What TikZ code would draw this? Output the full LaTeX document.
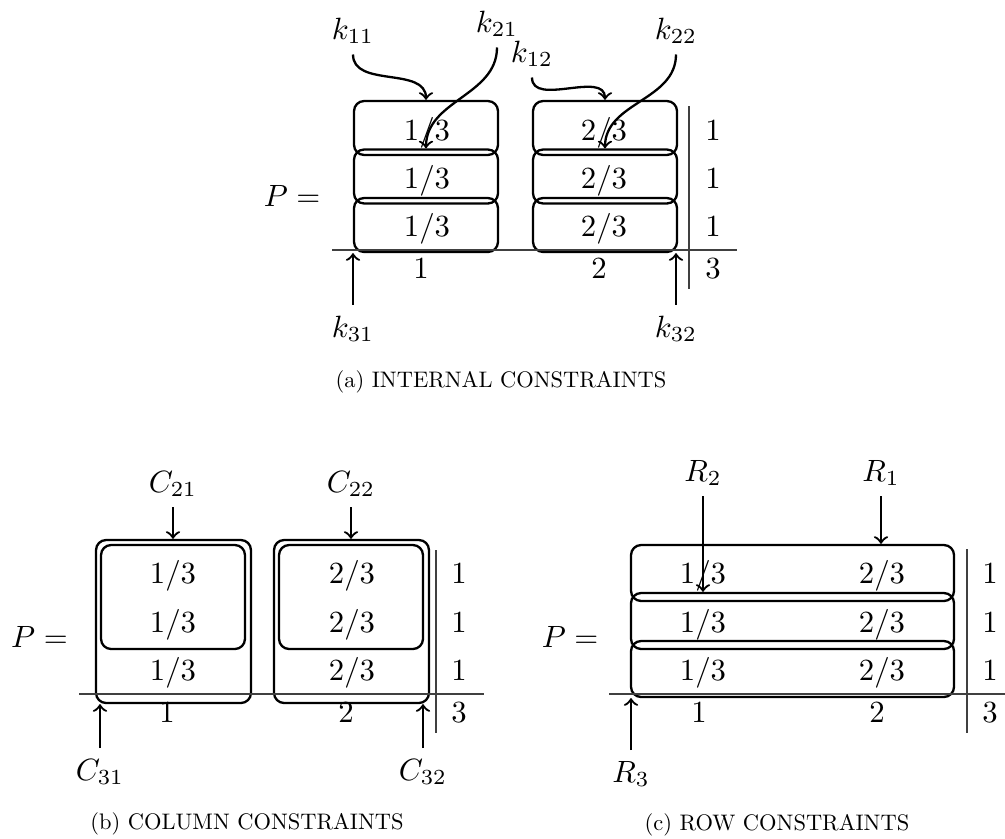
\documentclass[tikz,border=0pt]{standalone}
\begin{document}
\begin{tikzpicture}[x=0.325pt,y=-0.325pt,
  grp/.style args={#1x#2}{draw, line width=0.75pt, rounded corners=3.3pt, inner sep=0pt,
     minimum width=#1*0.325pt, minimum height=#2*0.325pt},
  val/.style={anchor=base, inner sep=0pt},
  lbl/.style={anchor=base},
  arr/.style={->, line width=0.75pt},
  rule/.style={line width=0.45pt, black!75},
  captxt/.style={anchor=base, scale=0.73}]
\useasboundingbox (0,0) rectangle (1005,838);

% ---------- (a) internal constraints ----------
\node[grp=144x54] (l1) at (426,128) {};
\node[grp=144x54] (l2) at (426,176.5) {};
\node[grp=144x54] (l3) at (426,225) {};
\node[grp=144x54] (r1) at (605,128) {};
\node[grp=144x54] (r2) at (605,176.5) {};
\node[grp=144x54] (r3) at (605,225) {};
\foreach \y [count=\i] in {140,188,236}{
  \node[val] (a1\i) at (427,\y) {$1/3$};
  \node[val] (a2\i) at (604,\y) {$2/3$};
  \node[val] (as\i) at (713,\y) {$1$};
}
\node[val] (ac1) at (421,278) {$1$};
\node[val] (ac2) at (599,278) {$2$};
\node[val] (at) at (713,278) {$3$};
\draw[rule] (332,250) -- (737,250);
\draw[rule] (689,106) -- (689,289);
\node[val] (Pa) at (292,206) {$P =$};
\node[lbl] (k11) at (353,39) {$k_{11}$};
\node[lbl] (k21) at (497,32) {$k_{21}$};
\node[lbl] (k12) at (532,62) {$k_{12}$};
\node[lbl] (k22) at (676,39) {$k_{22}$};
\node[lbl] (k31) at (353,337) {$k_{31}$};
\node[lbl] (k32) at (676,337) {$k_{32}$};
\draw[arr] (k11.south) to[out=-90,in=90] (l1.north);
\draw[arr] (k21.south) to[out=-90,in=90] (l2.north);
\draw[arr] (k12.south) to[out=-90,in=90] (r1.north);
\draw[arr] (k22.south) to[out=-90,in=90] (r2.north);
\draw[arr] (k31.north) -- (k31.north |- l3.south);
\draw[arr] (k32.north) -- (k32.north |- r3.south);
\node[captxt] (capa) at (501,387) {(a) INTERNAL CONSTRAINTS};

% ---------- (b) column constraints ----------
\node[grp=155x163] (ob1) at (173.5,621.5) {};
\node[grp=144x104] (ib1) at (173,597) {};
\node[grp=155x163] (ob2) at (351.5,621.5) {};
\node[grp=144x104] (ib2) at (351,597) {};
\foreach \y [count=\i] in {583,632,680}{
  \node[val] (b1\i) at (173,\y) {$1/3$};
  \node[val] (b2\i) at (352,\y) {$2/3$};
  \node[val] (bs\i) at (459,\y) {$1$};
}
\node[val] (bc1) at (167,722) {$1$};
\node[val] (bc2) at (346,722) {$2$};
\node[val] (bt) at (459,722) {$3$};
\draw[rule] (79,694) -- (484,694);
\draw[rule] (436,550) -- (436,733);
\node[val] (Pb) at (39.5,647) {$P =$};
\node[lbl] (C21) at (173,492) {$C_{21}$};
\node[lbl] (C22) at (351,492) {$C_{22}$};
\node[lbl] (C31) at (100,780) {$C_{31}$};
\node[lbl] (C32) at (423,780) {$C_{32}$};
\draw[arr] (C21.south) -- (C21.south |- ob1.north);
\draw[arr] (C22.south) -- (C22.south |- ob2.north);
\draw[arr] (C31.north) -- (C31.north |- ob1.south);
\draw[arr] (C32.north) -- (C32.north |- ob2.south);
\node[captxt] (capb) at (247,829) {(b) COLUMN CONSTRAINTS};

% ---------- (c) row constraints ----------
\node[grp=323x56] (rb1) at (792.5,573) {};
\node[grp=323x56] (rb2) at (792.5,621) {};
\node[grp=323x56] (rb3) at (792.5,669) {};
\foreach \y [count=\i] in {583,632,680}{
  \node[val] (c1\i) at (703,\y) {$1/3$};
  \node[val] (c2\i) at (882,\y) {$2/3$};
  \node[val] (cs\i) at (990,\y) {$1$};
}
\node[val] (cc1) at (699,722) {$1$};
\node[val] (cc2) at (877,722) {$2$};
\node[val] (ct) at (990,722) {$3$};
\draw[rule] (609,694) -- (1005,694);
\draw[rule] (967,549) -- (967,733);
\node[val] (Pc) at (570,647) {$P =$};
\node[lbl] (R2) at (703,481) {$R_2$};
\node[lbl] (R1) at (881,481) {$R_1$};
\node[lbl] (R3) at (631,782) {$R_3$};
\draw[arr] (R2.south) -- (R2.south |- rb2.north);
\draw[arr] (R1.south) -- (R1.south |- rb1.north);
\draw[arr] (R3.north) -- (R3.north |- rb3.south);
\node[captxt] (capc) at (777,830) {(c) ROW CONSTRAINTS};
\end{tikzpicture}
\end{document}
